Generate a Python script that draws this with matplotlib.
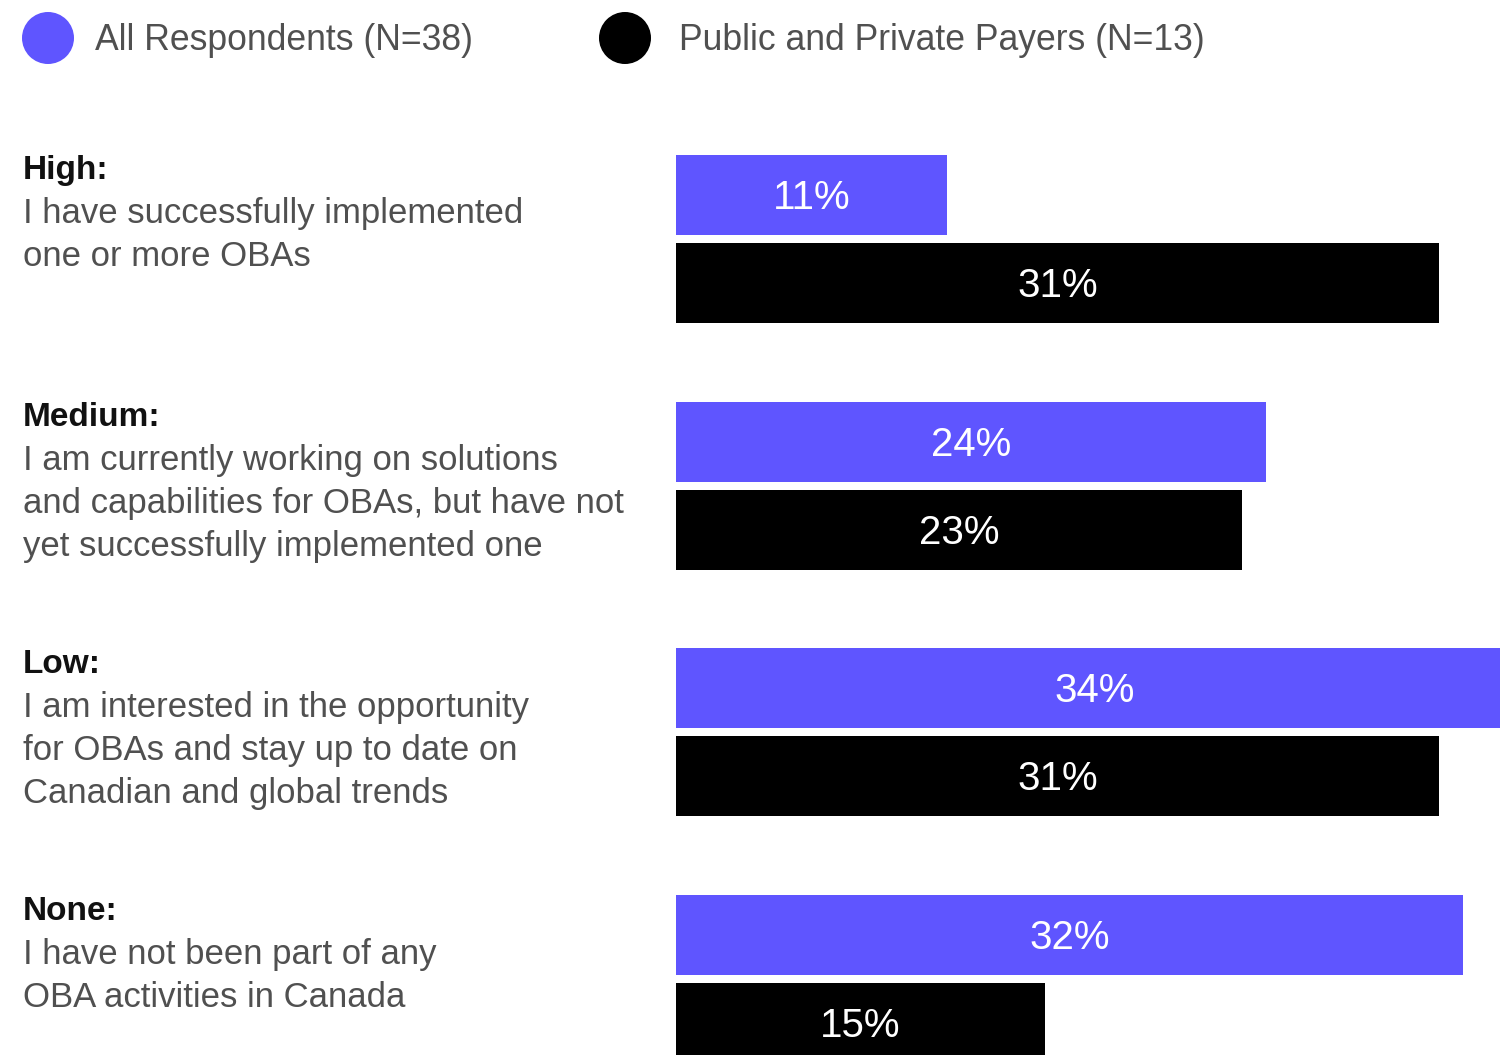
import matplotlib.pyplot as plt
from matplotlib.patches import Ellipse

plt.rcParams['font.family'] = ['Liberation Sans', 'DejaVu Sans']

# survey data
levels = ['High:', 'Medium:', 'Low:', 'None:']
descriptions = [
    ['I have successfully implemented', 'one or more OBAs'],
    ['I am currently working on solutions',
     'and capabilities for OBAs, but have not',
     'yet successfully implemented one'],
    ['I am interested in the opportunity',
     'for OBAs and stay up to date on',
     'Canadian and global trends'],
    ['I have not been part of any', 'OBA activities in Canada'],
]
all_resp = [11, 24, 34, 32]
payers = [31, 23, 31, 15]
series_names = ['All Respondents (N=38)', 'Public and Private Payers (N=13)']

BLUE = '#5F55FF'
BLACK = '#000000'
GREY = '#505050'

W, H = 1500, 1055
fig = plt.figure(figsize=(W / 100, H / 100), dpi=100)

# text / legend layer in pixel coords
bg = fig.add_axes([0, 0, 1, 1])
bg.set_xlim(0, W)
bg.set_ylim(H, 0)
bg.axis('off')

# bars layer: x in percent
x0 = 676
px_per_pct = 24.6
ax = fig.add_axes([x0 / W, 0, (W - x0) / W, 1])
ax.set_xlim(0, (W - x0) / px_per_pct)
ax.set_ylim(H, 0)
ax.axis('off')

group_top = 155
pitch = 246.7
bar_h = 80
gap = 8
line_h = 43

for i, (lvl, desc, a, p) in enumerate(zip(levels, descriptions, all_resp, payers)):
    top = group_top + i * pitch
    yb = top + bar_h / 2
    yk = top + bar_h + gap + bar_h / 2
    ax.barh(yb, a, height=bar_h, color=BLUE, linewidth=0)
    ax.barh(yk, p, height=bar_h, color=BLACK, linewidth=0)
    ax.text(a / 2, yb + 3, f'{a}%', color='white', fontsize=29,
            ha='center', va='center', clip_on=False)
    ax.text(p / 2, yk + 3, f'{p}%', color='white', fontsize=29,
            ha='center', va='center', clip_on=False)

    bg.text(23, top + 16, lvl, fontsize=24, color='#111111',
            fontweight='bold', ha='left', va='center')
    for k, line in enumerate(desc):
        bg.text(23, top + 59 + k * line_h, line, fontsize=25, color=GREY,
                ha='left', va='center')

# legend
for cx, tx, col, name in [(48, 95, BLUE, series_names[0]),
                          (625, 679, BLACK, series_names[1])]:
    bg.add_patch(Ellipse((cx, 38), 52, 52, color=col, linewidth=0))
    bg.text(tx, 40, name, fontsize=25.6, color=GREY, ha='left', va='center')

fig.savefig('out.png', dpi=100)
